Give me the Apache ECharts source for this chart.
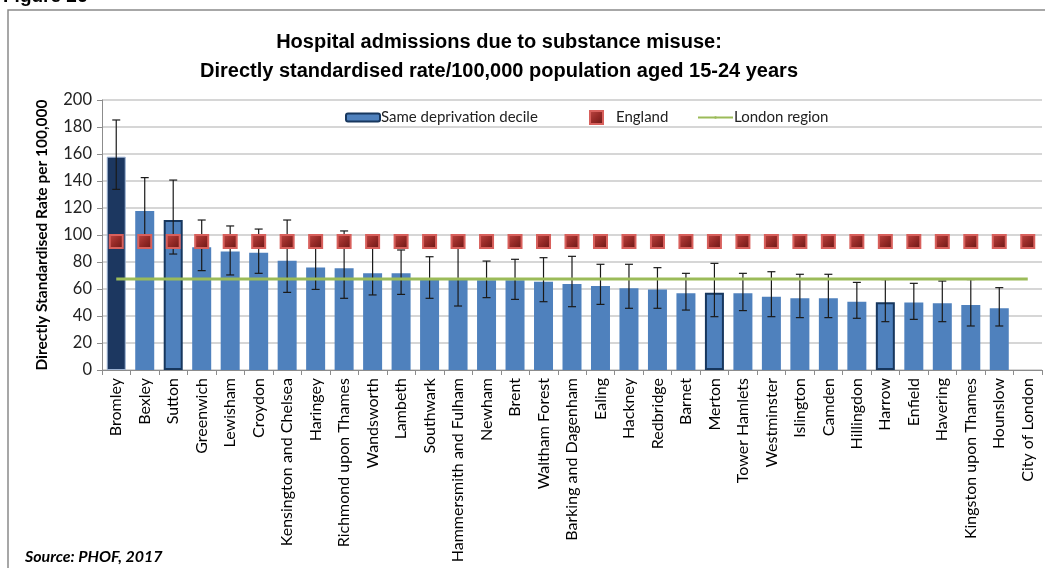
<!DOCTYPE html>
<html>
<head>
<meta charset="utf-8">
<script src="https://cdn.jsdelivr.net/npm/echarts@6/dist/echarts.min.js"></script>
<style>
html,body{margin:0;padding:0;background:#fff;}
#chart{width:1045px;height:568px;}
</style>
</head>
<body>
<div id="chart"></div>
<script>
const categories = ['Bromley','Bexley','Sutton','Greenwich','Lewisham','Croydon','Kensington and Chelsea','Haringey','Richmond upon Thames','Wandsworth','Lambeth','Southwark','Hammersmith and Fulham','Newham','Brent','Waltham Forest','Barking and Dagenham','Ealing','Hackney','Redbridge','Barnet','Merton','Tower Hamlets','Westminster','Islington','Camden','Hillingdon','Harrow','Enfield','Havering','Kingston upon Thames','Hounslow','City of London'];
const rates   = [158.0,117.8,111.1,90.9,87.7,86.9,81.0,76.0,75.3,71.6,71.6,66.7,66.7,66.5,66.5,65.4,63.7,62.2,60.5,59.7,56.8,57.3,56.8,54.3,53.1,53.1,50.6,50.1,50.0,49.4,48.1,45.7,null];
const lowerCI = [133.8,97.0,85.9,73.6,70.4,71.6,57.5,59.7,53.1,55.6,56.0,53.1,47.4,53.6,52.3,50.6,46.9,48.6,45.7,45.7,44.4,39.5,44.0,39.5,38.8,38.8,38.3,35.8,37.5,35.8,32.6,32.6,null];
const upperCI = [185.2,142.5,140.7,111.1,106.7,104.4,111.1,93.0,103.0,90.1,88.9,83.9,90.1,80.7,82.0,83.2,84.2,78.3,78.3,75.8,71.6,79.0,71.6,72.8,70.9,70.9,64.9,67.0,64.2,65.9,67.0,61.0,null];
const englandRate = [95.1,95.1,95.1,95.1,95.1,95.1,95.1,95.1,95.1,95.1,95.1,95.1,95.1,95.1,95.1,95.1,95.1,95.1,95.1,95.1,95.1,95.1,95.1,95.1,95.1,95.1,95.1,95.1,95.1,95.1,95.1,95.1,95.1];
const londonRate = [67.4,67.4,67.4,67.4,67.4,67.4,67.4,67.4,67.4,67.4,67.4,67.4,67.4,67.4,67.4,67.4,67.4,67.4,67.4,67.4,67.4,67.4,67.4,67.4,67.4,67.4,67.4,67.4,67.4,67.4,67.4,67.4,67.4];
const focusArea = 'Bromley';
const sameDecile = ['Sutton','Merton','Harrow'];
const yTicks = [0,20,40,60,80,100,120,140,160,180,200];

const BLUE = '#4F81BD', NAVY = '#17375E';
const barData = rates.map((v, i) => {
  const name = categories[i];
  if (name === focusArea) return {value: v, itemStyle: {color: '#1C3760', borderColor: '#9DB3D3', borderWidth: 1}};
  if (sameDecile.includes(name)) return {value: v, itemStyle: {color: BLUE, borderColor: NAVY, borderWidth: 2}};
  return v;
});
const errData = categories.map((c, i) => [i, lowerCI[i], upperCI[i]]);

const chart = echarts.init(document.getElementById('chart'), null, {renderer: 'canvas'});
const font = 'Lato, "Open Sans", sans-serif';
const markerColor = new echarts.graphic.LinearGradient(0, 0, 1, 1, [{offset: 0, color: '#c04844'}, {offset: 0.5, color: '#962a27'}, {offset: 1, color: '#641614'}]);
chart.setOption({
  animation: false,
  backgroundColor: '#fff',
  title: {
    text: 'Hospital admissions due to substance misuse:\nDirectly standardised rate/100,000 population aged 15-24 years',
    left: 494, top: 23, textAlign: 'center',
    textStyle: {fontFamily: '"Liberation Sans Narrow", "Arial Narrow", "Liberation Sans", Arial, sans-serif', fontWeight: 'bold', fontSize: 20, lineHeight: 29, color: '#000'}
  },
  graphic: [
    {type: 'rect', shape: {x: 8, y: 10, width: 1060, height: 600}, style: {fill: 'none', stroke: '#8a8a8a', lineWidth: 1.5}, silent: true, z: -10},
    {type: 'text', left: 3, top: -13, style: {text: 'Figure 26', font: 'bold 19px "Liberation Sans", Arial, sans-serif', fill: '#000'}},
    {type: 'text', left: 25, top: 549, style: {text: 'Source: PHOF, 2017', font: 'italic bold 16px Lato, "Open Sans", sans-serif', fill: '#000'}}
  ],
  legend: [
    {data: [{name: 'Same deprivation decile', itemStyle: {color: BLUE, borderColor: NAVY, borderWidth: 2}}], left: 340, top: 105, itemWidth: 34, itemHeight: 8, itemGap: 2,
     textStyle: {fontFamily: font, fontSize: 15, color: '#222', padding: [0,0,0,-4]}},
    {data: [{name: 'England', itemStyle: {color: markerColor, borderColor: '#d8605c', borderWidth: 2, opacity: 1}}], left: 584, top: 105, itemWidth: 13, itemHeight: 13, textStyle: {fontFamily: font, fontSize: 15, color: '#222', padding: [0,0,0,8]}},
    {data: ['London region'], left: 692, top: 105, itemWidth: 35, itemHeight: 3, textStyle: {fontFamily: font, fontSize: 15, color: '#222', padding: [0,0,0,-4]}}
  ],
  grid: {left: 102, right: 3, top: 100, bottom: 198, containLabel: false},
  xAxis: {
    type: 'category', data: categories,
    axisLine: {lineStyle: {color: '#8c8c8c'}},
    axisTick: {show: true, length: 5, alignWithLabel: false, lineStyle: {color: '#8c8c8c'}},
    axisLabel: {interval: 0, rotate: 90, margin: 8, fontFamily: font, fontSize: 16, color: '#000'}
  },
  yAxis: {
    type: 'value', min: 0, max: 200, interval: 20,
    name: 'Directly Standardised Rate per 100,000', nameLocation: 'middle', nameGap: 52,
    nameTextStyle: {fontFamily: font, fontWeight: 'bold', fontSize: 15.5, color: '#000'},
    axisLine: {show: true, lineStyle: {color: '#8c8c8c'}},
    axisTick: {show: true, length: 5, lineStyle: {color: '#8c8c8c'}},
    axisLabel: {fontFamily: font, fontSize: 16.5, color: '#222', margin: 10,
      formatter: v => yTicks.includes(v) ? String(v) : ''},
    splitLine: {lineStyle: {color: '#c8c8c8', width: 1.5}}
  },
  series: [
    {name: 'Same deprivation decile', type: 'bar', data: barData, barWidth: 19, itemStyle: {color: BLUE}, z: 2},
    {name: 'CI', type: 'custom', data: errData, z: 3,
     renderItem: (params, api) => {
       const lo = api.value(1), hi = api.value(2);
       if (lo == null || hi == null || isNaN(lo) || isNaN(hi)) return null;
       const p1 = api.coord([api.value(0), hi]);
       const p2 = api.coord([api.value(0), lo]);
       const hw = 4;
       const st = {stroke: '#1a1a1a', lineWidth: 1.2};
       return {type: 'group', children: [
         {type: 'line', shape: {x1: p1[0], y1: p1[1], x2: p2[0], y2: p2[1]}, style: st},
         {type: 'line', shape: {x1: p1[0]-hw, y1: p1[1], x2: p1[0]+hw, y2: p1[1]}, style: st},
         {type: 'line', shape: {x1: p2[0]-hw, y1: p2[1], x2: p2[0]+hw, y2: p2[1]}, style: st}
       ]};
     }},
    {name: 'London region', type: 'line', data: londonRate, showSymbol: false, symbol: 'none',
     lineStyle: {color: '#9BBB59', width: 3}, itemStyle: {color: '#9BBB59'}, z: 4},
    {name: 'England', type: 'scatter', data: englandRate, symbol: 'rect', symbolSize: 13, z: 5,
     itemStyle: {color: markerColor, borderColor: '#d8605c', borderWidth: 2, opacity: 1}}
  ]
});
</script>
</body>
</html>
